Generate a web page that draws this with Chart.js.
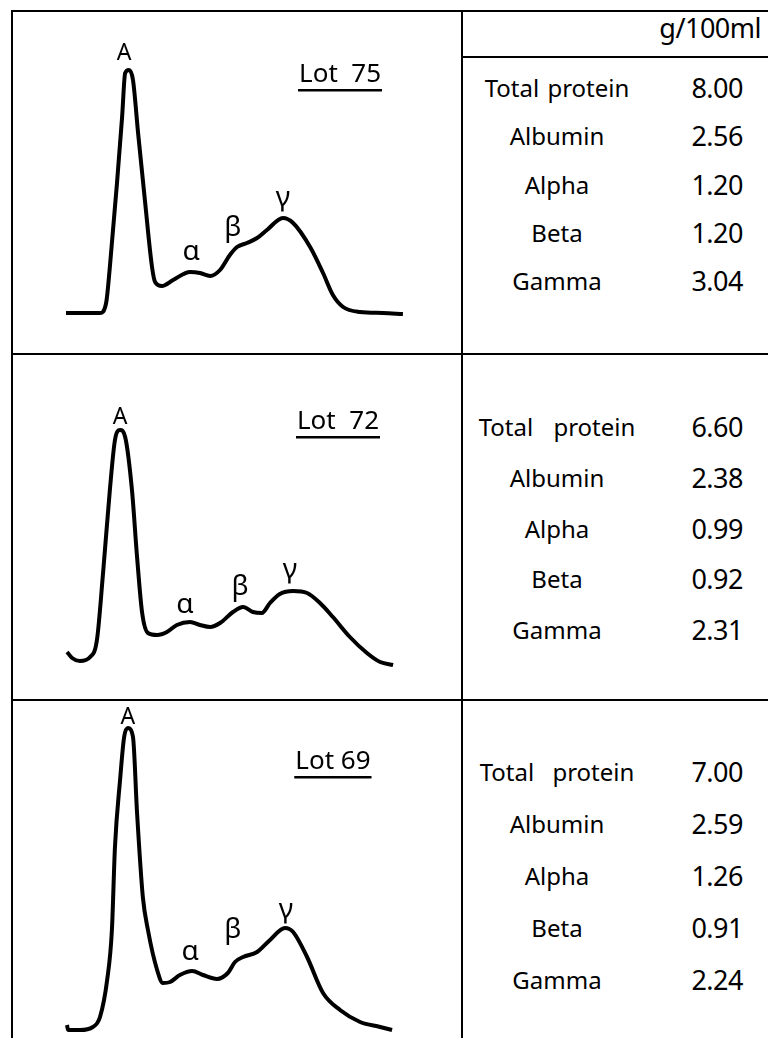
<!DOCTYPE html>
<html>
<head>
<meta charset="utf-8">
<script src="https://cdn.jsdelivr.net/npm/chart.js@4.4.1/dist/chart.umd.min.js"></script>
<style>
  html, body { margin: 0; padding: 0; background: #fff; }
  body { width: 768px; height: 1038px; position: relative; overflow: hidden; font-family: "Noto Sans", sans-serif; color: #000; }
  .rule { position: absolute; background: #000; }
  canvas { position: absolute; }
  .row { position: absolute; left: 0; height: 30px; line-height: 30px; }
  .row .name { position: absolute; left: 462px; width: 190px; text-align: center; white-space: pre; font-size: 24px; }
  .row .val { position: absolute; left: 632px; width: 111px; text-align: right; font-size: 27px; letter-spacing: -0.5px; }
  .unit { position: absolute; left: 600px; width: 161px; top: 13px; text-align: right; font-size: 27px; line-height: 30px; letter-spacing: -0.5px; }
</style>
</head>
<body>
<div class="rule" style="left:11px; top:10px; width:757px; height:2px;"></div>
<div class="rule" style="left:11px; top:10px; width:2px; height:1028px;"></div>
<div class="rule" style="left:461px; top:10px; width:2px; height:1028px;"></div>
<div class="rule" style="left:461px; top:56px; width:307px; height:2px;"></div>
<div class="rule" style="left:11px; top:353px; width:757px; height:2px;"></div>
<div class="rule" style="left:11px; top:699px; width:757px; height:2px;"></div>
<div class="unit">g/100ml</div>

<canvas id="lot75" width="450" height="343" style="left:12px; top:11px;"></canvas>
<canvas id="lot72" width="450" height="346" style="left:12px; top:354px;"></canvas>
<canvas id="lot69" width="450" height="338" style="left:12px; top:700px;"></canvas>

<script>
// densitometer traces: x = migration distance (arbitrary units), y = optical density
const lot75X = [0, 10.0, 11.8, 12.9, 15.0, 16.5, 17.4, 18.5, 19.7, 21.2, 23.2, 25.3, 26.2, 28.2, 31.5, 36.5, 39.4, 42.4, 45.3, 48.2, 50.3, 53.2, 56.2, 59.1, 63.8, 66.8, 71.8, 75.6, 78.5, 81.5, 86.5, 93.2, 99.1];
const lot75Y = [0, 0.00, 0.10, 0.46, 1.30, 1.96, 2.40, 2.43, 2.33, 1.80, 1.13, 0.46, 0.31, 0.27, 0.33, 0.41, 0.40, 0.37, 0.43, 0.58, 0.66, 0.70, 0.75, 0.83, 0.95, 0.90, 0.66, 0.40, 0.18, 0.06, 0.01, 0.00, -0.01];

const lot72X = [0.3, 1.8, 4.1, 7.1, 9.1, 10.9, 12.9, 14.4, 15.9, 17.4, 19.4, 20.9, 22.4, 24.1, 26.8, 29.7, 32.6, 36.5, 39.4, 42.4, 45.3, 49.1, 52.1, 55.0, 57.6, 60.0, 62.9, 66.8, 70.9, 74.7, 78.5, 83.5, 88.5, 92.4, 96.2];
const lot72Y = [0.11, 0.05, 0.02, 0.06, 0.23, 0.90, 1.73, 2.23, 2.33, 2.26, 1.73, 1.06, 0.50, 0.30, 0.28, 0.31, 0.38, 0.41, 0.38, 0.36, 0.40, 0.51, 0.56, 0.51, 0.50, 0.60, 0.69, 0.72, 0.70, 0.60, 0.46, 0.26, 0.10, 0.01, -0.02];

const lot69X = [0.3, 0.6, 4.1, 7.9, 10.0, 12.1, 13.5, 14.4, 15.9, 17.1, 18.2, 19.7, 20.9, 22.6, 24.1, 26.8, 28.5, 30.6, 33.5, 37.1, 40.3, 44.4, 47.6, 49.7, 52.1, 56.2, 60.0, 64.4, 66.8, 70.9, 75.6, 80.6, 86.5, 92.4, 95.9];
const lot69Y = [0.02, -0.03, -0.03, 0.00, 0.10, 0.47, 0.97, 1.80, 2.47, 2.90, 2.99, 2.90, 2.14, 1.30, 0.97, 0.57, 0.44, 0.45, 0.52, 0.56, 0.52, 0.48, 0.54, 0.65, 0.70, 0.75, 0.87, 0.99, 0.95, 0.70, 0.34, 0.17, 0.05, 0.00, -0.03];

// fraction labels on each trace
const peakNames = ["A", "α", "β", "γ"];
const lot75PeakX = [17.1, 36.8, 49.1, 63.8];
const lot75PeakY = [2.60, 0.61, 0.85, 1.15];
const lot72PeakX = [15.9, 35.0, 51.2, 65.9];
const lot72PeakY = [2.46, 0.58, 0.76, 0.93];
const lot69PeakX = [18.2, 36.5, 49.1, 64.7];
const lot69PeakY = [3.10, 0.75, 0.97, 1.17];

// table, g/100ml
const fractions = ["Total protein", "Albumin", "Alpha", "Beta", "Gamma"];
const lot75Values = ["8.00", "2.56", "1.20", "1.20", "3.04"];
const lot72Values = ["6.60", "2.38", "0.99", "0.92", "2.31"];
const lot69Values = ["7.00", "2.59", "1.26", "0.91", "2.24"];

const lots = [
  { id: "lot75", title: "Lot  75", xs: lot75X, ys: lot75Y, px: lot75PeakX, py: lot75PeakY, vals: lot75Values,
    yMin: -0.3, yMax: 2.7, pad: { top: 32, bottom: 11 }, titleAt: [80.6, 2.38], rowMid: 88, rowStep: 48.3, gap: 2 },
  { id: "lot72", title: "Lot  72", xs: lot72X, ys: lot72Y, px: lot72PeakX, py: lot72PeakY, vals: lot72Values,
    yMin: -0.3, yMax: 2.9, pad: { top: 19, bottom: 7 }, titleAt: [80.0, 2.41], rowMid: 427, rowStep: 50.8, gap: 14 },
  { id: "lot69", title: "Lot 69", xs: lot69X, ys: lot69Y, px: lot69PeakX, py: lot69PeakY, vals: lot69Values,
    yMin: -0.1, yMax: 3.2, pad: { top: 7, bottom: 1 }, titleAt: [78.5, 2.65], rowMid: 772, rowStep: 52, gap: 12 }
];

const labelPlugin = {
  id: "peakLabels",
  afterDatasetsDraw(chart, args, opts) {
    const { ctx } = chart;
    const xs = chart.scales.x;
    const ys = chart.scales.y;
    ctx.save();
    ctx.fillStyle = "#000";
    ctx.textAlign = "center";
    ctx.textBaseline = "middle";
    peakNames.forEach((name, i) => {
      ctx.font = i === 0 ? "23px 'Noto Sans'" : "28px 'Noto Sans'";
      ctx.fillText(name, xs.getPixelForValue(opts.px[i]), ys.getPixelForValue(opts.py[i]));
    });
    const tx = xs.getPixelForValue(opts.titleAt[0]);
    const ty = ys.getPixelForValue(opts.titleAt[1]);
    ctx.font = "26px 'Noto Sans'";
    ctx.fillText(opts.title, tx, ty);
    const w = ctx.measureText(opts.title).width;
    ctx.fillRect(tx - w / 2 - 1, ty + 14, w + 2, 2.5);
    ctx.restore();
  }
};

lots.forEach((lot) => {
  new Chart(document.getElementById(lot.id), {
    type: "line",
    data: {
      datasets: [{
        data: lot.xs.map((x, i) => ({ x, y: lot.ys[i] })),
        borderColor: "#000",
        borderWidth: 4,
        pointRadius: 0,
        fill: false,
        cubicInterpolationMode: "monotone",
        clip: false
      }]
    },
    options: {
      responsive: false,
      animation: false,
      events: [],
      layout: { padding: { left: 54, right: 56, top: lot.pad.top, bottom: lot.pad.bottom } },
      scales: {
        x: { type: "linear", display: false, min: 0, max: 100 },
        y: { display: false, min: lot.yMin, max: lot.yMax }
      },
      plugins: {
        legend: { display: false },
        tooltip: { enabled: false },
        peakLabels: { px: lot.px, py: lot.py, title: lot.title, titleAt: lot.titleAt }
      }
    },
    plugins: [labelPlugin]
  });

  fractions.forEach((name, i) => {
    const row = document.createElement("div");
    row.className = "row";
    row.style.top = (lot.rowMid + i * lot.rowStep - 15) + "px";
    row.innerHTML = `<span class="name" style="word-spacing:${lot.gap}px">${name}</span><span class="val">${lot.vals[i]}</span>`;
    document.body.appendChild(row);
  });
});
</script>
</body>
</html>
